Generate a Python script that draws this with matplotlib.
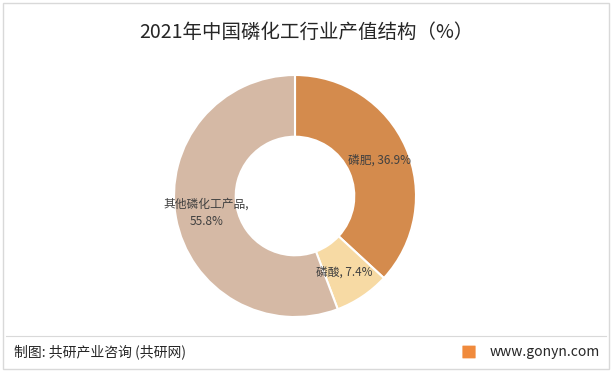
import matplotlib
matplotlib.use("Agg")
import matplotlib.pyplot as plt
import matplotlib.patches as mpatches

plt.rcParams['font.family'] = ['Noto Sans CJK SC', 'DejaVu Sans']

TITLE = "2021年中国磷化工行业产值结构（%）"
CATEGORIES = ["磷肥", "磷酸", "其他磷化工产品"]
VALUES = [36.9, 7.4, 55.8]
COLORS = ["#D48B4D", "#F7DAA4", "#D5B9A5"]
LABEL_POS = [(0.70, 0.30), (0.41, -0.63), (-0.73, -0.14)]
LABEL_TEXT = ["磷肥, 36.9%", "磷酸, 7.4%", "其他磷化工产品,\n55.8%"]

W, H = 612, 372
fig = plt.figure(figsize=(W / 100, H / 100), dpi=100)
fig.patch.set_facecolor("white")

# border and footer separator
fig.add_artist(mpatches.Rectangle((3 / W, 3 / H), 1 - 6 / W, 1 - 6 / H, transform=fig.transFigure,
                                  fill=False, edgecolor="#d9d9d9", linewidth=1.0))
fig.add_artist(plt.Line2D([6 / W, 1 - 6 / W], [1 - 336 / H, 1 - 336 / H], transform=fig.transFigure,
                          color="#d9d9d9", linewidth=0.8))

fig.text(0.5, 1 - 32 / H, TITLE, ha="center", va="center", fontsize=14, color="#262626")

cx, cy, r = 295, 196, 121
ax = fig.add_axes([(cx - r) / W, (H - cy - r) / H, 2 * r / W, 2 * r / H])
ax.pie(VALUES, colors=COLORS, startangle=90, counterclock=False, radius=1,
       wedgeprops=dict(width=0.51, edgecolor="white", linewidth=1.5))
ax.set_xlim(-1, 1)
ax.set_ylim(-1, 1)
ax.set_aspect("equal")
ax.axis("off")
for (lx, ly), t in zip(LABEL_POS, LABEL_TEXT):
    ax.text(lx, ly, t, ha="center", va="center", fontsize=8.5, color="#404040",
            linespacing=1.5)

fig.text(14 / W, 1 - 352 / H, "制图: 共研产业咨询 (共研网)", ha="left", va="center",
         fontsize=10, color="#262626")
fig.add_artist(mpatches.FancyBboxPatch((463 / W, 1 - 358 / H), 12 / W, 12 / H,
                                       boxstyle="round,pad=0.001", transform=fig.transFigure,
                                       facecolor="#F08A3C", edgecolor="none"))
fig.text(1 - 12 / W, 1 - 352 / H, "www.gonyn.com", ha="right", va="center",
         fontsize=10, color="#262626")

fig.savefig("out.png", dpi=100)
